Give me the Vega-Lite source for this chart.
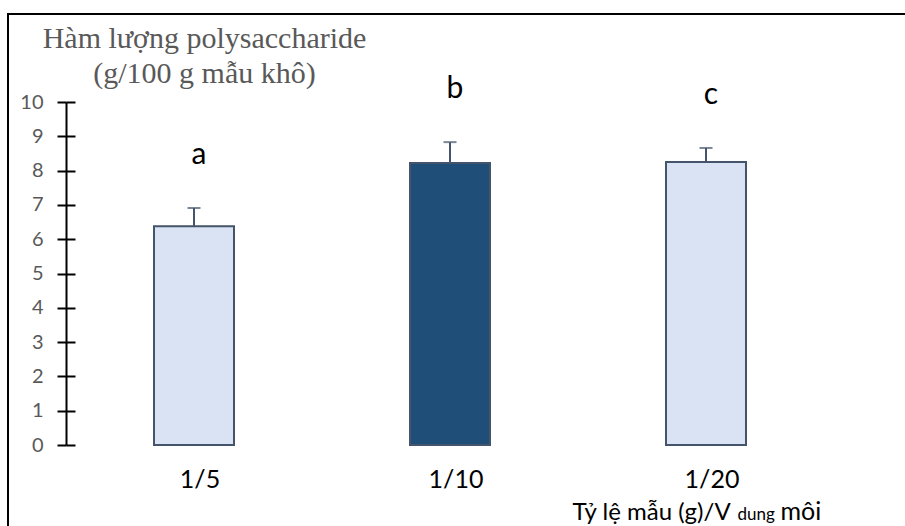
{
  "$schema": "https://vega.github.io/schema/vega-lite/v6.json",
  "autosize": "none",
  "padding": {"left": 8, "top": 14, "right": 0, "bottom": 0},
  "width": 920,
  "height": 540,
  "background": "white",
  "config": {
    "view": {"stroke": "#000000", "strokeWidth": 2},
    "axis": {"grid": false}
  },
  "data": {
    "values": [
      {"ratio": "1/5", "mean": 6.38, "upper": 6.91, "letter": "a"},
      {"ratio": "1/10", "mean": 8.22, "upper": 8.83, "letter": "b"},
      {"ratio": "1/20", "mean": 8.25, "upper": 8.66, "letter": "c"}
    ]
  },
  "layer": [
    {
      "mark": {"type": "bar", "stroke": "#44546A", "strokeWidth": 2},
      "encoding": {
        "x": {
          "field": "ratio",
          "type": "nominal",
          "sort": ["1/5", "1/10", "1/20"],
          "scale": {"range": [58, 826], "paddingInner": 0.6875, "paddingOuter": 0.34375},
          "axis": {
            "orient": "bottom",
            "offset": -109,
            "domain": false,
            "ticks": false,
            "labelFont": "Lato",
            "labelFontSize": 25,
            "labelColor": "#000000",
            "labelPadding": 22,
            "labelOffset": 6,
            "labelAngle": 0,
            "title": "Tỷ lệ mẫu (g)/V",
            "titleFont": "Lato",
            "titleFontSize": 24,
            "titleFontWeight": "normal",
            "titleColor": "#000000",
            "titleAnchor": "start",
            "titleAlign": "left",
            "titleX": 564,
            "titleY": 74,
            "titleBaseline": "alphabetic"
          }
        },
        "y": {
          "field": "mean",
          "type": "quantitative",
          "scale": {"domain": [0, 10], "range": [431, 88], "nice": false, "zero": true},
          "axis": {
            "orient": "left",
            "offset": -58,
            "values": [0, 1, 2, 3, 4, 5, 6, 7, 8, 9, 10],
            "domainColor": "#000000",
            "domainWidth": 2,
            "tickColor": "#000000",
            "tickWidth": 2,
            "tickSize": 9,
            "labelFont": "Lato",
            "labelFontSize": 20,
            "labelColor": "#595959",
            "labelPadding": 14,
            "title": ["Hàm lượng  polysaccharide", "(g/100  g mẫu khô)"],
            "titleFont": "Liberation Serif",
            "titleFontSize": 30,
            "titleFontWeight": "normal",
            "titleColor": "#595959",
            "titleAngle": 0,
            "titleAlign": "center",
            "titleAnchor": "start",
            "titleBaseline": "alphabetic",
            "titleX": 138,
            "titleY": 33,
            "titleLineHeight": 35
          }
        },
        "fill": {
          "field": "ratio",
          "type": "nominal",
          "scale": {"domain": ["1/5", "1/10", "1/20"], "range": ["#DAE3F3", "#1F4E79", "#DAE3F3"]},
          "legend": null
        }
      }
    },
    {
      "mark": {"type": "rule", "color": "#44546A", "strokeWidth": 2},
      "encoding": {
        "x": {
          "field": "ratio",
          "type": "nominal",
          "sort": ["1/5", "1/10", "1/20"],
          "axis": {
            "orient": "bottom",
            "offset": -109,
            "domain": false,
            "ticks": false,
            "labels": false,
            "title": "dung",
            "titleFont": "Lato",
            "titleFontSize": 17,
            "titleFontWeight": "normal",
            "titleColor": "#000000",
            "titleAnchor": "start",
            "titleAlign": "left",
            "titleX": 729,
            "titleY": 74,
            "titleBaseline": "alphabetic"
          }
        },
        "y": {"field": "mean", "type": "quantitative", "axis": {"orient": "right", "offset": -862, "domain": false, "labels": false, "title": null, "values": [0, 1, 2, 3, 4, 5, 6, 7, 8, 9, 10], "tickColor": "#000000", "tickWidth": 2, "tickSize": 9}},
        "y2": {"field": "upper"}
      }
    },
    {
      "mark": {"type": "tick", "color": "#44546A", "thickness": 2, "size": 13, "orient": "horizontal"},
      "encoding": {
        "x": {
          "field": "ratio",
          "type": "nominal",
          "sort": ["1/5", "1/10", "1/20"],
          "axis": {
            "orient": "bottom",
            "offset": -109,
            "domain": false,
            "ticks": false,
            "labels": false,
            "title": "môi",
            "titleFont": "Lato",
            "titleFontSize": 25,
            "titleFontWeight": "normal",
            "titleColor": "#000000",
            "titleAnchor": "start",
            "titleAlign": "left",
            "titleX": 772,
            "titleY": 74,
            "titleBaseline": "alphabetic"
          }
        },
        "y": {"field": "upper", "type": "quantitative", "axis": null}
      }
    },
    {
      "mark": {"type": "text", "font": "Lato", "fontSize": 30, "color": "#000000", "baseline": "middle", "dy": -53, "dx": 5},
      "encoding": {
        "x": {"field": "ratio", "type": "nominal", "sort": ["1/5", "1/10", "1/20"], "axis": null},
        "y": {"field": "upper", "type": "quantitative", "axis": null},
        "text": {"field": "letter"}
      }
    }
  ],
  "resolve": {"axis": {"y": "independent", "x": "independent"}}
}
